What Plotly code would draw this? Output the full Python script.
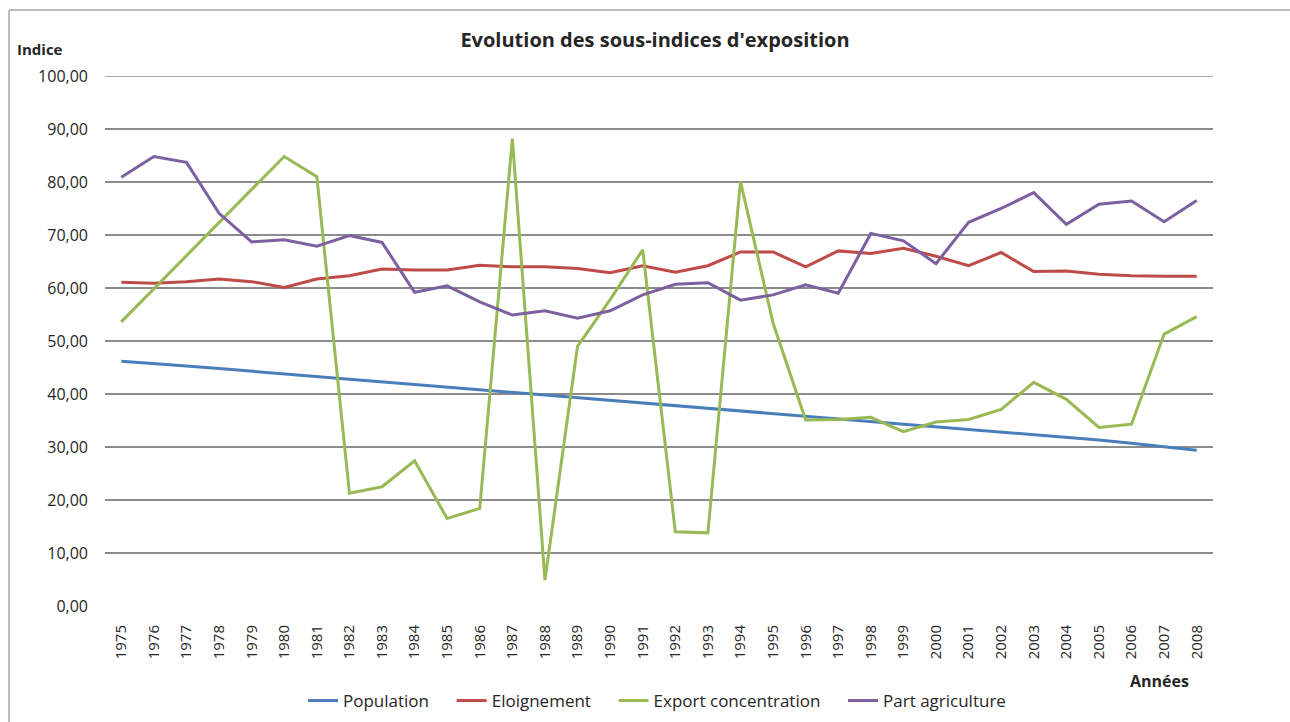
import plotly.graph_objects as go

annees = [str(a) for a in range(1975, 2009)]

population = [46.2, 45.8, 45.3, 44.8, 44.3, 43.8, 43.3, 42.8, 42.3, 41.8,
              41.3, 40.9, 40.4, 39.9, 39.4, 38.9, 38.4, 37.9, 37.4, 36.9,
              36.4, 35.9, 35.4, 34.9, 34.4, 33.9, 33.4, 32.9, 32.4, 31.9,
              31.3, 30.7, 30.1, 29.4]
eloignement = [61.1, 60.9, 61.2, 61.7, 61.2, 60.1, 61.7, 62.3, 63.6, 63.4,
               63.4, 64.3, 64.0, 64.0, 63.7, 62.9, 64.2, 63.0, 64.2, 66.8,
               66.8, 64.0, 67.0, 66.5, 67.5, 66.0, 64.2, 66.7, 63.1, 63.2,
               62.6, 62.3, 62.2, 62.2]
export_conc = [53.6, 59.9, 66.0, 72.3, 78.6, 84.8, 81.0, 21.3, 22.5, 27.4,
               16.5, 18.4, 88.2, 4.9, 49.0, 57.8, 67.2, 14.0, 13.8, 80.1,
               53.4, 35.1, 35.2, 35.6, 32.9, 34.7, 35.2, 37.1, 42.2, 39.0,
               33.7, 34.3, 51.3, 54.6]
part_agri = [80.9, 84.8, 83.7, 74.1, 68.7, 69.1, 67.9, 69.9, 68.6, 59.2,
             60.4, 57.4, 54.9, 55.7, 54.3, 55.7, 58.7, 60.7, 61.0, 57.7,
             58.7, 60.6, 59.0, 70.3, 68.9, 64.6, 72.4, 75.0, 78.0, 72.0,
             75.8, 76.4, 72.5, 76.5]

series = [
    ("Population", population, "#4a7ebb"),
    ("Eloignement", eloignement, "#be4b48"),
    ("Export concentration", export_conc, "#98b954"),
    ("Part agriculture", part_agri, "#7d60a0"),
]

esp = "\u00a0" * 4  # espace entre les entrées de légende
fig = go.Figure()
for i, (nom, vals, coul) in enumerate(series):
    fig.add_trace(go.Scatter(x=annees, y=vals, mode="lines",
                             name=nom + (esp if i < len(series) - 1 else ""),
                             line=dict(color=coul, width=3)))

grille = "#8c8c8c"
fig.update_layout(
    width=1290, height=722,
    margin=dict(l=105, r=77, t=76, b=116),
    paper_bgcolor="white", plot_bgcolor="white",
    separators=", ",
    font=dict(family="'Open Sans', sans-serif", size=14, color="#262626"),
    title=dict(text="<b>Evolution des sous-indices d'exposition</b>",
               x=655 / 1290, xanchor="center", y=1 - 40 / 722, yanchor="middle",
               font=dict(size=20, color="#262626")),
    showlegend=True,
    legend=dict(orientation="h", xref="container", yref="container",
                x=657 / 1290, xanchor="center", y=1 - 701 / 722, yanchor="middle",
                font=dict(size=17), traceorder="normal"),
    xaxis=dict(type="category", tickangle=-90, showgrid=False, zeroline=False,
               showline=False, ticks="", tickfont=dict(size=15), automargin=False,
               ticklabelstandoff=15, range=[-0.5, len(annees) - 0.5]),
    yaxis=dict(range=[0, 100], dtick=10, tickformat=".2f", showgrid=True,
               gridcolor=grille, gridwidth=1.5, zeroline=False, showline=False,
               ticks="", ticklabelstandoff=16, tickfont=dict(size=16), automargin=False),
    annotations=[
        dict(text="<b>Indice</b>", xref="paper", yref="paper", x=-0.0587, y=1.051,
             xanchor="center", yanchor="middle", showarrow=False, font=dict(size=15)),
        dict(text="<b>Années</b>", xref="paper", yref="paper", x=0.952, y=-0.1415,
             xanchor="center", yanchor="middle", showarrow=False, font=dict(size=16)),
    ],
    shapes=[
        # ligne de grille du haut (100)
        dict(type="line", xref="paper", yref="y", x0=0, x1=1, y0=100, y1=100,
             line=dict(color=grille, width=1.5), layer="below"),
        # cadre du graphique
        dict(type="line", xref="paper", yref="paper", x0=-0.0866, x1=1.08, y0=1.1245, y1=1.1245,
             line=dict(color="#a6a6a6", width=1.5)),
        dict(type="line", xref="paper", yref="paper", x0=-0.0866, x1=-0.0866, y0=1.1245, y1=-0.22,
             line=dict(color="#a6a6a6", width=1.5)),
    ],
)

fig.write_html("out.html", config={"displayModeBar": False},
               post_script="document.body.style.margin='0';")
